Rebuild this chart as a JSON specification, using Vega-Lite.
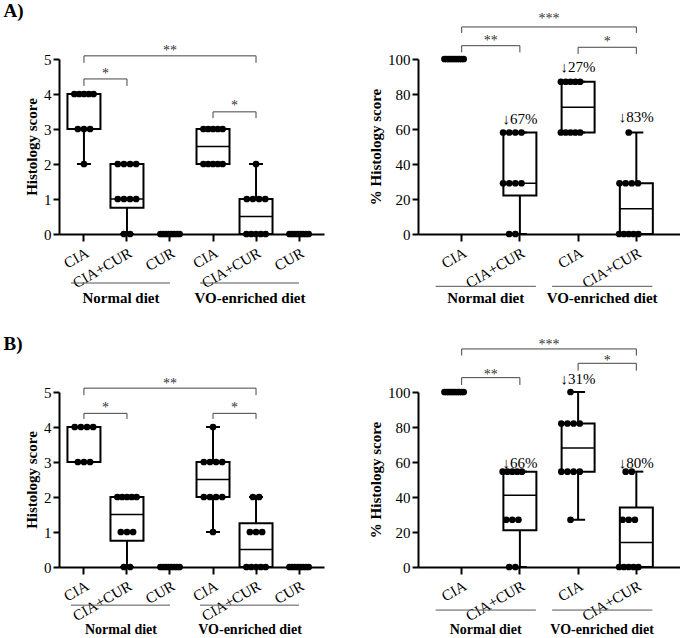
{
"$schema":"https://vega.github.io/schema/vega-lite/v6.json",
"background":"white",
"padding":{"left":3,"top":2,"right":0,"bottom":0},
"config":{"font":"Liberation Serif","view":{"stroke":null},
"axis":{"domainColor":"black","domainWidth":2,"tickColor":"black","tickWidth":2,"tickSize":6,"labelColor":"black","labelFontSize":15,"labelFont":"Liberation Serif","labelOverlap":false,"titleColor":"black","titleFontSize":15,"titleFontWeight":"bold","titleFont":"Liberation Serif","grid":false},
"axisX":{"labelAngle":-30,"labelFontSize":15,"labelPadding":4,"tickSize":7}},
"datasets":{
"pts":[
{"p":"AL","g":"Normal|CIA","v":4},{"p":"AL","g":"Normal|CIA","v":4},{"p":"AL","g":"Normal|CIA","v":4},{"p":"AL","g":"Normal|CIA","v":4},{"p":"AL","g":"Normal|CIA","v":4},
{"p":"AL","g":"Normal|CIA","v":3},{"p":"AL","g":"Normal|CIA","v":3},{"p":"AL","g":"Normal|CIA","v":3},{"p":"AL","g":"Normal|CIA","v":2},
{"p":"AL","g":"Normal|CIA+CUR","v":2},{"p":"AL","g":"Normal|CIA+CUR","v":2},{"p":"AL","g":"Normal|CIA+CUR","v":2},{"p":"AL","g":"Normal|CIA+CUR","v":2},
{"p":"AL","g":"Normal|CIA+CUR","v":1},{"p":"AL","g":"Normal|CIA+CUR","v":1},{"p":"AL","g":"Normal|CIA+CUR","v":1},{"p":"AL","g":"Normal|CIA+CUR","v":1},
{"p":"AL","g":"Normal|CIA+CUR","v":0},{"p":"AL","g":"Normal|CIA+CUR","v":0},
{"p":"AL","g":"Normal|CUR","v":0},{"p":"AL","g":"Normal|CUR","v":0},{"p":"AL","g":"Normal|CUR","v":0},{"p":"AL","g":"Normal|CUR","v":0},{"p":"AL","g":"Normal|CUR","v":0},{"p":"AL","g":"Normal|CUR","v":0},{"p":"AL","g":"Normal|CUR","v":0},{"p":"AL","g":"Normal|CUR","v":0},
{"p":"AL","g":"VO|CIA","v":3},{"p":"AL","g":"VO|CIA","v":3},{"p":"AL","g":"VO|CIA","v":3},{"p":"AL","g":"VO|CIA","v":3},{"p":"AL","g":"VO|CIA","v":3},
{"p":"AL","g":"VO|CIA","v":2},{"p":"AL","g":"VO|CIA","v":2},{"p":"AL","g":"VO|CIA","v":2},{"p":"AL","g":"VO|CIA","v":2},{"p":"AL","g":"VO|CIA","v":2},
{"p":"AL","g":"VO|CIA+CUR","v":2},
{"p":"AL","g":"VO|CIA+CUR","v":1},{"p":"AL","g":"VO|CIA+CUR","v":1},{"p":"AL","g":"VO|CIA+CUR","v":1},{"p":"AL","g":"VO|CIA+CUR","v":1},
{"p":"AL","g":"VO|CIA+CUR","v":0},{"p":"AL","g":"VO|CIA+CUR","v":0},{"p":"AL","g":"VO|CIA+CUR","v":0},{"p":"AL","g":"VO|CIA+CUR","v":0},{"p":"AL","g":"VO|CIA+CUR","v":0},
{"p":"AL","g":"VO|CUR","v":0},{"p":"AL","g":"VO|CUR","v":0},{"p":"AL","g":"VO|CUR","v":0},{"p":"AL","g":"VO|CUR","v":0},{"p":"AL","g":"VO|CUR","v":0},{"p":"AL","g":"VO|CUR","v":0},{"p":"AL","g":"VO|CUR","v":0},{"p":"AL","g":"VO|CUR","v":0},

{"p":"AR","g":"Normal|CIA","v":100},{"p":"AR","g":"Normal|CIA","v":100},{"p":"AR","g":"Normal|CIA","v":100},{"p":"AR","g":"Normal|CIA","v":100},{"p":"AR","g":"Normal|CIA","v":100},{"p":"AR","g":"Normal|CIA","v":100},{"p":"AR","g":"Normal|CIA","v":100},{"p":"AR","g":"Normal|CIA","v":100},{"p":"AR","g":"Normal|CIA","v":100},{"p":"AR","g":"Normal|CIA","v":100},
{"p":"AR","g":"Normal|CIA+CUR","v":58},{"p":"AR","g":"Normal|CIA+CUR","v":58},{"p":"AR","g":"Normal|CIA+CUR","v":58},{"p":"AR","g":"Normal|CIA+CUR","v":58},
{"p":"AR","g":"Normal|CIA+CUR","v":29},{"p":"AR","g":"Normal|CIA+CUR","v":29},{"p":"AR","g":"Normal|CIA+CUR","v":29},{"p":"AR","g":"Normal|CIA+CUR","v":29},
{"p":"AR","g":"Normal|CIA+CUR","v":0},{"p":"AR","g":"Normal|CIA+CUR","v":0},
{"p":"AR","g":"VO|CIA","v":87},{"p":"AR","g":"VO|CIA","v":87},{"p":"AR","g":"VO|CIA","v":87},{"p":"AR","g":"VO|CIA","v":87},{"p":"AR","g":"VO|CIA","v":87},
{"p":"AR","g":"VO|CIA","v":58},{"p":"AR","g":"VO|CIA","v":58},{"p":"AR","g":"VO|CIA","v":58},{"p":"AR","g":"VO|CIA","v":58},{"p":"AR","g":"VO|CIA","v":58},
{"p":"AR","g":"VO|CIA+CUR","v":58},
{"p":"AR","g":"VO|CIA+CUR","v":29},{"p":"AR","g":"VO|CIA+CUR","v":29},{"p":"AR","g":"VO|CIA+CUR","v":29},{"p":"AR","g":"VO|CIA+CUR","v":29},
{"p":"AR","g":"VO|CIA+CUR","v":0},{"p":"AR","g":"VO|CIA+CUR","v":0},{"p":"AR","g":"VO|CIA+CUR","v":0},{"p":"AR","g":"VO|CIA+CUR","v":0},{"p":"AR","g":"VO|CIA+CUR","v":0},

{"p":"BL","g":"Normal|CIA","v":4},{"p":"BL","g":"Normal|CIA","v":4},{"p":"BL","g":"Normal|CIA","v":4},{"p":"BL","g":"Normal|CIA","v":4},
{"p":"BL","g":"Normal|CIA","v":3},{"p":"BL","g":"Normal|CIA","v":3},{"p":"BL","g":"Normal|CIA","v":3},
{"p":"BL","g":"Normal|CIA+CUR","v":2},{"p":"BL","g":"Normal|CIA+CUR","v":2},{"p":"BL","g":"Normal|CIA+CUR","v":2},{"p":"BL","g":"Normal|CIA+CUR","v":2},{"p":"BL","g":"Normal|CIA+CUR","v":2},
{"p":"BL","g":"Normal|CIA+CUR","v":1},{"p":"BL","g":"Normal|CIA+CUR","v":1},{"p":"BL","g":"Normal|CIA+CUR","v":1},
{"p":"BL","g":"Normal|CIA+CUR","v":0},{"p":"BL","g":"Normal|CIA+CUR","v":0},
{"p":"BL","g":"Normal|CUR","v":0},{"p":"BL","g":"Normal|CUR","v":0},{"p":"BL","g":"Normal|CUR","v":0},{"p":"BL","g":"Normal|CUR","v":0},{"p":"BL","g":"Normal|CUR","v":0},{"p":"BL","g":"Normal|CUR","v":0},{"p":"BL","g":"Normal|CUR","v":0},{"p":"BL","g":"Normal|CUR","v":0},
{"p":"BL","g":"VO|CIA","v":4},
{"p":"BL","g":"VO|CIA","v":3},{"p":"BL","g":"VO|CIA","v":3},{"p":"BL","g":"VO|CIA","v":3},{"p":"BL","g":"VO|CIA","v":3},
{"p":"BL","g":"VO|CIA","v":2},{"p":"BL","g":"VO|CIA","v":2},{"p":"BL","g":"VO|CIA","v":2},{"p":"BL","g":"VO|CIA","v":2},
{"p":"BL","g":"VO|CIA","v":1},
{"p":"BL","g":"VO|CIA+CUR","v":2},{"p":"BL","g":"VO|CIA+CUR","v":2},
{"p":"BL","g":"VO|CIA+CUR","v":1},{"p":"BL","g":"VO|CIA+CUR","v":1},{"p":"BL","g":"VO|CIA+CUR","v":1},
{"p":"BL","g":"VO|CIA+CUR","v":0},{"p":"BL","g":"VO|CIA+CUR","v":0},{"p":"BL","g":"VO|CIA+CUR","v":0},{"p":"BL","g":"VO|CIA+CUR","v":0},{"p":"BL","g":"VO|CIA+CUR","v":0},
{"p":"BL","g":"VO|CUR","v":0},{"p":"BL","g":"VO|CUR","v":0},{"p":"BL","g":"VO|CUR","v":0},{"p":"BL","g":"VO|CUR","v":0},{"p":"BL","g":"VO|CUR","v":0},{"p":"BL","g":"VO|CUR","v":0},{"p":"BL","g":"VO|CUR","v":0},{"p":"BL","g":"VO|CUR","v":0},

{"p":"BR","g":"Normal|CIA","v":100},{"p":"BR","g":"Normal|CIA","v":100},{"p":"BR","g":"Normal|CIA","v":100},{"p":"BR","g":"Normal|CIA","v":100},{"p":"BR","g":"Normal|CIA","v":100},{"p":"BR","g":"Normal|CIA","v":100},{"p":"BR","g":"Normal|CIA","v":100},{"p":"BR","g":"Normal|CIA","v":100},{"p":"BR","g":"Normal|CIA","v":100},{"p":"BR","g":"Normal|CIA","v":100},
{"p":"BR","g":"Normal|CIA+CUR","v":54.5},{"p":"BR","g":"Normal|CIA+CUR","v":54.5},{"p":"BR","g":"Normal|CIA+CUR","v":54.5},{"p":"BR","g":"Normal|CIA+CUR","v":54.5},{"p":"BR","g":"Normal|CIA+CUR","v":54.5},
{"p":"BR","g":"Normal|CIA+CUR","v":27},{"p":"BR","g":"Normal|CIA+CUR","v":27},{"p":"BR","g":"Normal|CIA+CUR","v":27},
{"p":"BR","g":"Normal|CIA+CUR","v":0},{"p":"BR","g":"Normal|CIA+CUR","v":0},
{"p":"BR","g":"VO|CIA","v":100},
{"p":"BR","g":"VO|CIA","v":82},{"p":"BR","g":"VO|CIA","v":82},{"p":"BR","g":"VO|CIA","v":82},{"p":"BR","g":"VO|CIA","v":82},
{"p":"BR","g":"VO|CIA","v":54.5},{"p":"BR","g":"VO|CIA","v":54.5},{"p":"BR","g":"VO|CIA","v":54.5},{"p":"BR","g":"VO|CIA","v":54.5},
{"p":"BR","g":"VO|CIA","v":27},
{"p":"BR","g":"VO|CIA+CUR","v":54.5},{"p":"BR","g":"VO|CIA+CUR","v":54.5},
{"p":"BR","g":"VO|CIA+CUR","v":27},{"p":"BR","g":"VO|CIA+CUR","v":27},{"p":"BR","g":"VO|CIA+CUR","v":27},
{"p":"BR","g":"VO|CIA+CUR","v":0},{"p":"BR","g":"VO|CIA+CUR","v":0},{"p":"BR","g":"VO|CIA+CUR","v":0},{"p":"BR","g":"VO|CIA+CUR","v":0},{"p":"BR","g":"VO|CIA+CUR","v":0}
],
"box":[
{"p":"AL","g":"Normal|CIA","lo":2,"q1":3,"md":4,"q3":4,"hi":4},
{"p":"AL","g":"Normal|CIA+CUR","lo":0,"q1":0.75,"md":1,"q3":2,"hi":2},
{"p":"AL","g":"VO|CIA","lo":2,"q1":2,"md":2.5,"q3":3,"hi":3},
{"p":"AL","g":"VO|CIA+CUR","lo":0,"q1":0,"md":0.5,"q3":1,"hi":2},
{"p":"AR","g":"Normal|CIA+CUR","lo":0,"q1":22,"md":29,"q3":58,"hi":58},
{"p":"AR","g":"VO|CIA","lo":58,"q1":58,"md":72.5,"q3":87,"hi":87},
{"p":"AR","g":"VO|CIA+CUR","lo":0,"q1":0,"md":14.5,"q3":29,"hi":58},
{"p":"BL","g":"Normal|CIA","lo":3,"q1":3,"md":4,"q3":4,"hi":4},
{"p":"BL","g":"Normal|CIA+CUR","lo":0,"q1":0.75,"md":1.5,"q3":2,"hi":2},
{"p":"BL","g":"VO|CIA","lo":1,"q1":2,"md":2.5,"q3":3,"hi":4},
{"p":"BL","g":"VO|CIA+CUR","lo":0,"q1":0,"md":0.5,"q3":1.25,"hi":2},
{"p":"BR","g":"Normal|CIA+CUR","lo":0,"q1":21,"md":41,"q3":54.5,"hi":54.5},
{"p":"BR","g":"VO|CIA","lo":27,"q1":54.5,"md":68,"q3":82,"hi":100},
{"p":"BR","g":"VO|CIA+CUR","lo":0,"q1":0,"md":14,"q3":34,"hi":54.5}
],
"br":[
{"p":"AL","b":1,"g":"Normal|CIA","y":4.89,"s":0},{"p":"AL","b":1,"g":"Normal|CIA","y":5.09,"s":1},{"p":"AL","b":1,"g":"VO|CIA+CUR","y":5.09,"s":2},{"p":"AL","b":1,"g":"VO|CIA+CUR","y":4.89,"s":3},
{"p":"AL","b":2,"g":"Normal|CIA","y":4.23,"s":0},{"p":"AL","b":2,"g":"Normal|CIA","y":4.43,"s":1},{"p":"AL","b":2,"g":"Normal|CIA+CUR","y":4.43,"s":2},{"p":"AL","b":2,"g":"Normal|CIA+CUR","y":4.23,"s":3},
{"p":"AL","b":3,"g":"VO|CIA","y":3.31,"s":0},{"p":"AL","b":3,"g":"VO|CIA","y":3.49,"s":1},{"p":"AL","b":3,"g":"VO|CIA+CUR","y":3.49,"s":2},{"p":"AL","b":3,"g":"VO|CIA+CUR","y":3.31,"s":3},
{"p":"AR","b":1,"g":"Normal|CIA","y":114.9,"s":0},{"p":"AR","b":1,"g":"Normal|CIA","y":118.3,"s":1},{"p":"AR","b":1,"g":"VO|CIA+CUR","y":118.3,"s":2},{"p":"AR","b":1,"g":"VO|CIA+CUR","y":114.9,"s":3},
{"p":"AR","b":2,"g":"Normal|CIA","y":103.8,"s":0},{"p":"AR","b":2,"g":"Normal|CIA","y":107.6,"s":1},{"p":"AR","b":2,"g":"Normal|CIA+CUR","y":107.6,"s":2},{"p":"AR","b":2,"g":"Normal|CIA+CUR","y":103.8,"s":3},
{"p":"AR","b":3,"g":"VO|CIA","y":102.9,"s":0},{"p":"AR","b":3,"g":"VO|CIA","y":106.7,"s":1},{"p":"AR","b":3,"g":"VO|CIA+CUR","y":106.7,"s":2},{"p":"AR","b":3,"g":"VO|CIA+CUR","y":102.9,"s":3},
{"p":"BL","b":1,"g":"Normal|CIA","y":4.91,"s":0},{"p":"BL","b":1,"g":"Normal|CIA","y":5.11,"s":1},{"p":"BL","b":1,"g":"VO|CIA+CUR","y":5.11,"s":2},{"p":"BL","b":1,"g":"VO|CIA+CUR","y":4.91,"s":3},
{"p":"BL","b":2,"g":"Normal|CIA","y":4.23,"s":0},{"p":"BL","b":2,"g":"Normal|CIA","y":4.39,"s":1},{"p":"BL","b":2,"g":"Normal|CIA+CUR","y":4.39,"s":2},{"p":"BL","b":2,"g":"Normal|CIA+CUR","y":4.23,"s":3},
{"p":"BL","b":3,"g":"VO|CIA","y":4.23,"s":0},{"p":"BL","b":3,"g":"VO|CIA","y":4.39,"s":1},{"p":"BL","b":3,"g":"VO|CIA+CUR","y":4.39,"s":2},{"p":"BL","b":3,"g":"VO|CIA+CUR","y":4.23,"s":3},
{"p":"BR","b":1,"g":"Normal|CIA","y":120.8,"s":0},{"p":"BR","b":1,"g":"Normal|CIA","y":124.6,"s":1},{"p":"BR","b":1,"g":"VO|CIA+CUR","y":124.6,"s":2},{"p":"BR","b":1,"g":"VO|CIA+CUR","y":120.8,"s":3},
{"p":"BR","b":2,"g":"Normal|CIA","y":104,"s":0},{"p":"BR","b":2,"g":"Normal|CIA","y":108.2,"s":1},{"p":"BR","b":2,"g":"Normal|CIA+CUR","y":108.2,"s":2},{"p":"BR","b":2,"g":"Normal|CIA+CUR","y":104,"s":3},
{"p":"BR","b":3,"g":"VO|CIA","y":112.2,"s":0},{"p":"BR","b":3,"g":"VO|CIA","y":116.4,"s":1},{"p":"BR","b":3,"g":"VO|CIA+CUR","y":116.4,"s":2},{"p":"BR","b":3,"g":"VO|CIA+CUR","y":112.2,"s":3}
],
"st":[
{"p":"AL","g":"Normal|CUR","t":"**","y":5.22},{"p":"AL","g":"Normal|CIA","t":"*","y":4.57},{"p":"AL","g":"VO|CIA","t":"*","y":3.65},
{"p":"AR","g":"Normal|CIA+CUR","t":"***","y":122.9},{"p":"AR","g":"Normal|CIA","t":"**","y":110.3},{"p":"AR","g":"VO|CIA","t":"*","y":109.9},
{"p":"BL","g":"Normal|CUR","t":"**","y":5.23},{"p":"BL","g":"Normal|CIA","t":"*","y":4.54},{"p":"BL","g":"VO|CIA","t":"*","y":4.54},
{"p":"BR","g":"Normal|CIA+CUR","t":"***","y":127.1},{"p":"BR","g":"VO|CIA","t":"*","y":117.5},{"p":"BR","g":"Normal|CIA","t":"**","y":109.5}
],
"pc":[
{"p":"AR","g":"Normal|CIA+CUR","t":"↓67%","y":65.8},{"p":"AR","g":"VO|CIA","t":"↓27%","y":95.7},{"p":"AR","g":"VO|CIA+CUR","t":"↓83%","y":66.8},
{"p":"BR","g":"Normal|CIA+CUR","t":"↓66%","y":59.3},{"p":"BR","g":"VO|CIA","t":"↓31%","y":107.3},{"p":"BR","g":"VO|CIA+CUR","t":"↓80%","y":59.3}
],
"gl":[
{"p":"AL","t":"Normal diet","g1":"Normal|CIA","g2":"Normal|CUR","gm":"Normal|CIA+CUR","yl":-1.4,"yt":-1.83},
{"p":"AL","t":"VO-enriched diet","g1":"VO|CIA","g2":"VO|CUR","gm":"VO|CIA+CUR","yl":-1.4,"yt":-1.83},
{"p":"BL","t":"Normal diet","g1":"Normal|CIA","g2":"Normal|CUR","gm":"Normal|CIA+CUR","yl":-1.09,"yt":-1.8},
{"p":"BL","t":"VO-enriched diet","g1":"VO|CIA","g2":"VO|CUR","gm":"VO|CIA+CUR","yl":-1.09,"yt":-1.8},
{"p":"AR","t":"Normal diet","g1":"Normal|CIA","g2":"Normal|CIA+CUR","gm":"Normal|CIA","yl":-29.9,"yt":-36.6},
{"p":"AR","t":"VO-enriched diet","g1":"VO|CIA","g2":"VO|CIA+CUR","gm":"VO|CIA","yl":-29.9,"yt":-36.6},
{"p":"BR","t":"Normal diet","g1":"Normal|CIA","g2":"Normal|CIA+CUR","gm":"Normal|CIA","yl":-24.6,"yt":-36},
{"p":"BR","t":"VO-enriched diet","g1":"VO|CIA","g2":"VO|CIA+CUR","gm":"VO|CIA","yl":-24.6,"yt":-36}
]
},
"spacing":27,
"vconcat":[
{"spacing":44,"hconcat":[
{"width":265,"height":175,
"title":{"text":"A)","anchor":"start","frame":"bounds","dx":-21,"offset":8,"baseline":"alphabetic","fontSize":19,"fontWeight":"bold","font":"Liberation Serif","color":"black"},
"layer":[
{"data":{"name":"box"},"transform":[{"filter":"datum.p==='AL'"}],"mark":{"type":"rule","color":"black","strokeWidth":2},
"encoding":{"x":{"field":"g","type":"nominal","scale":{"domain":["Normal|CIA","Normal|CIA+CUR","Normal|CUR","VO|CIA","VO|CIA+CUR","VO|CUR"],"paddingInner":0,"paddingOuter":0.08},"axis":{"title":null,"labelExpr":"split(datum.label,'|')[1]"}},
"y":{"field":"lo","type":"quantitative","scale":{"domain":[0,5],"nice":false},"axis":{"title":"Histology score","values":[0,1,2,3,4,5],"labelOverlap":false}},"y2":{"field":"hi"}}},
{"data":{"name":"box"},"transform":[{"filter":"datum.p==='AL'"}],"mark":{"type":"bar","width":33,"fill":"white","stroke":"black","strokeWidth":2},
"encoding":{"x":{"field":"g","type":"nominal","axis":{"title":null,"labelExpr":"split(datum.label,'|')[1]"}},"y":{"field":"q1","type":"quantitative","axis":{"title":"Histology score","values":[0,1,2,3,4,5],"labelOverlap":false}},"y2":{"field":"q3"}}},
{"data":{"name":"box"},"transform":[{"filter":"datum.p==='AL'"}],"mark":{"type":"tick","size":33,"thickness":1.5,"color":"black","opacity":1},
"encoding":{"x":{"field":"g","type":"nominal","axis":{"title":null,"labelExpr":"split(datum.label,'|')[1]"}},"y":{"field":"md","type":"quantitative","axis":{"title":"Histology score","values":[0,1,2,3,4,5],"labelOverlap":false}}}},
{"data":{"name":"box"},"transform":[{"filter":"datum.p==='AL'"}],"mark":{"type":"tick","size":14,"thickness":2,"color":"black","opacity":1},
"encoding":{"x":{"field":"g","type":"nominal","axis":{"title":null,"labelExpr":"split(datum.label,'|')[1]"}},"y":{"field":"lo","type":"quantitative","axis":{"title":"Histology score","values":[0,1,2,3,4,5],"labelOverlap":false}}}},
{"data":{"name":"box"},"transform":[{"filter":"datum.p==='AL'"}],"mark":{"type":"tick","size":14,"thickness":2,"color":"black","opacity":1},
"encoding":{"x":{"field":"g","type":"nominal","axis":{"title":null,"labelExpr":"split(datum.label,'|')[1]"}},"y":{"field":"hi","type":"quantitative","axis":{"title":"Histology score","values":[0,1,2,3,4,5],"labelOverlap":false}}}},
{"data":{"name":"pts"},"transform":[{"filter":"datum.p==='AL'"},{"window":[{"op":"row_number","as":"rk"}],"groupby":["g","v"]},{"joinaggregate":[{"op":"count","as":"n"}],"groupby":["g","v"]},{"calculate":"(datum.rk-(datum.n+1)/2)*min(8.3,26/max(datum.n-1,1))","as":"off"}],
"mark":{"type":"circle","size":45,"color":"black","opacity":1},
"encoding":{"x":{"field":"g","type":"nominal","axis":{"title":null,"labelExpr":"split(datum.label,'|')[1]"}},"xOffset":{"field":"off","type":"quantitative","scale":{"domain":[-21.5,21.5],"nice":false,"zero":false}},"y":{"field":"v","type":"quantitative","axis":{"title":"Histology score","values":[0,1,2,3,4,5],"labelOverlap":false}}}},
{"data":{"name":"br"},"transform":[{"filter":"datum.p==='AL'"}],"mark":{"type":"line","color":"#444","strokeWidth":1},
"encoding":{"x":{"field":"g","type":"nominal","axis":{"title":null,"labelExpr":"split(datum.label,'|')[1]"}},"y":{"field":"y","type":"quantitative","axis":{"title":"Histology score","values":[0,1,2,3,4,5],"labelOverlap":false}},"detail":{"field":"b"},"order":{"field":"s","type":"quantitative"}}},
{"data":{"name":"st"},"transform":[{"filter":"datum.p==='AL' && datum.t==='**'"}],"mark":{"type":"text","fontSize":14,"color":"#333","baseline":"middle"},
"encoding":{"x":{"field":"g","type":"nominal","axis":{"title":null,"labelExpr":"split(datum.label,'|')[1]"}},"y":{"field":"y","type":"quantitative","axis":{"title":"Histology score","values":[0,1,2,3,4,5],"labelOverlap":false}},"text":{"field":"t"}}},
{"data":{"name":"st"},"transform":[{"filter":"datum.p==='AL' && datum.t==='*'"}],"mark":{"type":"text","fontSize":14,"color":"#333","baseline":"middle","dx":21.5},
"encoding":{"x":{"field":"g","type":"nominal","axis":{"title":null,"labelExpr":"split(datum.label,'|')[1]"}},"y":{"field":"y","type":"quantitative","axis":{"title":"Histology score","values":[0,1,2,3,4,5],"labelOverlap":false}},"text":{"field":"t"}}},
{"data":{"name":"gl"},"transform":[{"filter":"datum.p==='AL'"}],"mark":{"type":"rule","color":"#555","strokeWidth":1,"xOffset":-13,"x2Offset":0},
"encoding":{"x":{"field":"g1","type":"nominal","bandPosition":0.5,"axis":{"title":null,"labelExpr":"split(datum.label,'|')[1]"}},"x2":{"field":"g2"},"y":{"field":"yl","type":"quantitative","axis":{"title":"Histology score","values":[0,1,2,3,4,5],"labelOverlap":false}}}},
{"data":{"name":"gl"},"transform":[{"filter":"datum.p==='AL'"}],"mark":{"type":"text","fontSize":15,"fontWeight":"bold","color":"black","baseline":"middle","dx":-6},
"encoding":{"x":{"field":"gm","type":"nominal","axis":{"title":null,"labelExpr":"split(datum.label,'|')[1]"}},"y":{"field":"yt","type":"quantitative","axis":{"title":"Histology score","values":[0,1,2,3,4,5],"labelOverlap":false}},"text":{"field":"t"}}}
]},
{"width":262,"height":175,
"layer":[
{"data":{"name":"box"},"transform":[{"filter":"datum.p==='AR'"}],"mark":{"type":"rule","color":"black","strokeWidth":2},
"encoding":{"x":{"field":"g","type":"nominal","scale":{"domain":["Normal|CIA","Normal|CIA+CUR","VO|CIA","VO|CIA+CUR"],"paddingInner":0,"paddingOuter":0.25},"axis":{"title":null,"labelExpr":"split(datum.label,'|')[1]"}},
"y":{"field":"lo","type":"quantitative","scale":{"domain":[0,100],"nice":false},"axis":{"title":"% Histology score","values":[0,20,40,60,80,100],"labelOverlap":false}},"y2":{"field":"hi"}}},
{"data":{"name":"box"},"transform":[{"filter":"datum.p==='AR'"}],"mark":{"type":"bar","width":33,"fill":"white","stroke":"black","strokeWidth":2},
"encoding":{"x":{"field":"g","type":"nominal","axis":{"title":null,"labelExpr":"split(datum.label,'|')[1]"}},"y":{"field":"q1","type":"quantitative","axis":{"title":"% Histology score","values":[0,20,40,60,80,100],"labelOverlap":false}},"y2":{"field":"q3"}}},
{"data":{"name":"box"},"transform":[{"filter":"datum.p==='AR'"}],"mark":{"type":"tick","size":33,"thickness":1.5,"color":"black","opacity":1},
"encoding":{"x":{"field":"g","type":"nominal","axis":{"title":null,"labelExpr":"split(datum.label,'|')[1]"}},"y":{"field":"md","type":"quantitative","axis":{"title":"% Histology score","values":[0,20,40,60,80,100],"labelOverlap":false}}}},
{"data":{"name":"box"},"transform":[{"filter":"datum.p==='AR'"}],"mark":{"type":"tick","size":14,"thickness":2,"color":"black","opacity":1},
"encoding":{"x":{"field":"g","type":"nominal","axis":{"title":null,"labelExpr":"split(datum.label,'|')[1]"}},"y":{"field":"lo","type":"quantitative","axis":{"title":"% Histology score","values":[0,20,40,60,80,100],"labelOverlap":false}}}},
{"data":{"name":"box"},"transform":[{"filter":"datum.p==='AR'"}],"mark":{"type":"tick","size":14,"thickness":2,"color":"black","opacity":1},
"encoding":{"x":{"field":"g","type":"nominal","axis":{"title":null,"labelExpr":"split(datum.label,'|')[1]"}},"y":{"field":"hi","type":"quantitative","axis":{"title":"% Histology score","values":[0,20,40,60,80,100],"labelOverlap":false}}}},
{"data":{"name":"pts"},"transform":[{"filter":"datum.p==='AR'"},{"window":[{"op":"row_number","as":"rk"}],"groupby":["g","v"]},{"joinaggregate":[{"op":"count","as":"n"}],"groupby":["g","v"]},{"calculate":"(datum.rk-(datum.n+1)/2)*min(8.3,26/max(datum.n-1,1))","as":"off"}],
"mark":{"type":"circle","size":45,"color":"black","opacity":1},
"encoding":{"x":{"field":"g","type":"nominal","axis":{"title":null,"labelExpr":"split(datum.label,'|')[1]"}},"xOffset":{"field":"off","type":"quantitative","scale":{"domain":[-29.1,29.1],"nice":false,"zero":false}},"y":{"field":"v","type":"quantitative","axis":{"title":"% Histology score","values":[0,20,40,60,80,100],"labelOverlap":false}}}},
{"data":{"name":"br"},"transform":[{"filter":"datum.p==='AR'"}],"mark":{"type":"line","color":"#444","strokeWidth":1},
"encoding":{"x":{"field":"g","type":"nominal","axis":{"title":null,"labelExpr":"split(datum.label,'|')[1]"}},"y":{"field":"y","type":"quantitative","axis":{"title":"% Histology score","values":[0,20,40,60,80,100],"labelOverlap":false}},"detail":{"field":"b"},"order":{"field":"s","type":"quantitative"}}},
{"data":{"name":"st"},"transform":[{"filter":"datum.p==='AR'"}],"mark":{"type":"text","fontSize":14,"color":"#333","baseline":"middle","dx":29.1},
"encoding":{"x":{"field":"g","type":"nominal","axis":{"title":null,"labelExpr":"split(datum.label,'|')[1]"}},"y":{"field":"y","type":"quantitative","axis":{"title":"% Histology score","values":[0,20,40,60,80,100],"labelOverlap":false}},"text":{"field":"t"}}},
{"data":{"name":"pc"},"transform":[{"filter":"datum.p==='AR'"}],"mark":{"type":"text","fontSize":15,"color":"black","baseline":"middle"},
"encoding":{"x":{"field":"g","type":"nominal","axis":{"title":null,"labelExpr":"split(datum.label,'|')[1]"}},"y":{"field":"y","type":"quantitative","axis":{"title":"% Histology score","values":[0,20,40,60,80,100],"labelOverlap":false}},"text":{"field":"t"}}},
{"data":{"name":"gl"},"transform":[{"filter":"datum.p==='AR'"}],"mark":{"type":"rule","color":"#555","strokeWidth":1,"xOffset":-26,"x2Offset":16},
"encoding":{"x":{"field":"g1","type":"nominal","bandPosition":0.5,"axis":{"title":null,"labelExpr":"split(datum.label,'|')[1]"}},"x2":{"field":"g2"},"y":{"field":"yl","type":"quantitative","axis":{"title":"% Histology score","values":[0,20,40,60,80,100],"labelOverlap":false}}}},
{"data":{"name":"gl"},"transform":[{"filter":"datum.p==='AR'"}],"mark":{"type":"text","fontSize":15,"fontWeight":"bold","color":"black","baseline":"middle","dx":24},
"encoding":{"x":{"field":"gm","type":"nominal","axis":{"title":null,"labelExpr":"split(datum.label,'|')[1]"}},"y":{"field":"yt","type":"quantitative","axis":{"title":"% Histology score","values":[0,20,40,60,80,100],"labelOverlap":false}},"text":{"field":"t"}}}
]}
]},
{"spacing":44,"hconcat":[
{"width":265,"height":175,
"title":{"text":"B)","anchor":"start","frame":"bounds","dx":-21,"offset":8,"baseline":"alphabetic","fontSize":19,"fontWeight":"bold","font":"Liberation Serif","color":"black"},
"layer":[
{"data":{"name":"box"},"transform":[{"filter":"datum.p==='BL'"}],"mark":{"type":"rule","color":"black","strokeWidth":2},
"encoding":{"x":{"field":"g","type":"nominal","scale":{"domain":["Normal|CIA","Normal|CIA+CUR","Normal|CUR","VO|CIA","VO|CIA+CUR","VO|CUR"],"paddingInner":0,"paddingOuter":0.08},"axis":{"title":null,"labelExpr":"split(datum.label,'|')[1]"}},
"y":{"field":"lo","type":"quantitative","scale":{"domain":[0,5],"nice":false},"axis":{"title":"Histology score","values":[0,1,2,3,4,5],"labelOverlap":false}},"y2":{"field":"hi"}}},
{"data":{"name":"box"},"transform":[{"filter":"datum.p==='BL'"}],"mark":{"type":"bar","width":33,"fill":"white","stroke":"black","strokeWidth":2},
"encoding":{"x":{"field":"g","type":"nominal","axis":{"title":null,"labelExpr":"split(datum.label,'|')[1]"}},"y":{"field":"q1","type":"quantitative","axis":{"title":"Histology score","values":[0,1,2,3,4,5],"labelOverlap":false}},"y2":{"field":"q3"}}},
{"data":{"name":"box"},"transform":[{"filter":"datum.p==='BL'"}],"mark":{"type":"tick","size":33,"thickness":1.5,"color":"black","opacity":1},
"encoding":{"x":{"field":"g","type":"nominal","axis":{"title":null,"labelExpr":"split(datum.label,'|')[1]"}},"y":{"field":"md","type":"quantitative","axis":{"title":"Histology score","values":[0,1,2,3,4,5],"labelOverlap":false}}}},
{"data":{"name":"box"},"transform":[{"filter":"datum.p==='BL'"}],"mark":{"type":"tick","size":14,"thickness":2,"color":"black","opacity":1},
"encoding":{"x":{"field":"g","type":"nominal","axis":{"title":null,"labelExpr":"split(datum.label,'|')[1]"}},"y":{"field":"lo","type":"quantitative","axis":{"title":"Histology score","values":[0,1,2,3,4,5],"labelOverlap":false}}}},
{"data":{"name":"box"},"transform":[{"filter":"datum.p==='BL'"}],"mark":{"type":"tick","size":14,"thickness":2,"color":"black","opacity":1},
"encoding":{"x":{"field":"g","type":"nominal","axis":{"title":null,"labelExpr":"split(datum.label,'|')[1]"}},"y":{"field":"hi","type":"quantitative","axis":{"title":"Histology score","values":[0,1,2,3,4,5],"labelOverlap":false}}}},
{"data":{"name":"pts"},"transform":[{"filter":"datum.p==='BL'"},{"window":[{"op":"row_number","as":"rk"}],"groupby":["g","v"]},{"joinaggregate":[{"op":"count","as":"n"}],"groupby":["g","v"]},{"calculate":"(datum.rk-(datum.n+1)/2)*min(8.3,26/max(datum.n-1,1))","as":"off"}],
"mark":{"type":"circle","size":45,"color":"black","opacity":1},
"encoding":{"x":{"field":"g","type":"nominal","axis":{"title":null,"labelExpr":"split(datum.label,'|')[1]"}},"xOffset":{"field":"off","type":"quantitative","scale":{"domain":[-21.5,21.5],"nice":false,"zero":false}},"y":{"field":"v","type":"quantitative","axis":{"title":"Histology score","values":[0,1,2,3,4,5],"labelOverlap":false}}}},
{"data":{"name":"br"},"transform":[{"filter":"datum.p==='BL'"}],"mark":{"type":"line","color":"#444","strokeWidth":1},
"encoding":{"x":{"field":"g","type":"nominal","axis":{"title":null,"labelExpr":"split(datum.label,'|')[1]"}},"y":{"field":"y","type":"quantitative","axis":{"title":"Histology score","values":[0,1,2,3,4,5],"labelOverlap":false}},"detail":{"field":"b"},"order":{"field":"s","type":"quantitative"}}},
{"data":{"name":"st"},"transform":[{"filter":"datum.p==='BL' && datum.t==='**'"}],"mark":{"type":"text","fontSize":14,"color":"#333","baseline":"middle"},
"encoding":{"x":{"field":"g","type":"nominal","axis":{"title":null,"labelExpr":"split(datum.label,'|')[1]"}},"y":{"field":"y","type":"quantitative","axis":{"title":"Histology score","values":[0,1,2,3,4,5],"labelOverlap":false}},"text":{"field":"t"}}},
{"data":{"name":"st"},"transform":[{"filter":"datum.p==='BL' && datum.t==='*'"}],"mark":{"type":"text","fontSize":14,"color":"#333","baseline":"middle","dx":21.5},
"encoding":{"x":{"field":"g","type":"nominal","axis":{"title":null,"labelExpr":"split(datum.label,'|')[1]"}},"y":{"field":"y","type":"quantitative","axis":{"title":"Histology score","values":[0,1,2,3,4,5],"labelOverlap":false}},"text":{"field":"t"}}},
{"data":{"name":"gl"},"transform":[{"filter":"datum.p==='BL'"}],"mark":{"type":"rule","color":"#555","strokeWidth":1,"xOffset":-13,"x2Offset":0},
"encoding":{"x":{"field":"g1","type":"nominal","bandPosition":0.5,"axis":{"title":null,"labelExpr":"split(datum.label,'|')[1]"}},"x2":{"field":"g2"},"y":{"field":"yl","type":"quantitative","axis":{"title":"Histology score","values":[0,1,2,3,4,5],"labelOverlap":false}}}},
{"data":{"name":"gl"},"transform":[{"filter":"datum.p==='BL'"}],"mark":{"type":"text","fontSize":14,"fontWeight":"bold","color":"black","baseline":"middle","dx":-6},
"encoding":{"x":{"field":"gm","type":"nominal","axis":{"title":null,"labelExpr":"split(datum.label,'|')[1]"}},"y":{"field":"yt","type":"quantitative","axis":{"title":"Histology score","values":[0,1,2,3,4,5],"labelOverlap":false}},"text":{"field":"t"}}}
]},
{"width":262,"height":175,
"layer":[
{"data":{"name":"box"},"transform":[{"filter":"datum.p==='BR'"}],"mark":{"type":"rule","color":"black","strokeWidth":2},
"encoding":{"x":{"field":"g","type":"nominal","scale":{"domain":["Normal|CIA","Normal|CIA+CUR","VO|CIA","VO|CIA+CUR"],"paddingInner":0,"paddingOuter":0.25},"axis":{"title":null,"labelExpr":"split(datum.label,'|')[1]"}},
"y":{"field":"lo","type":"quantitative","scale":{"domain":[0,100],"nice":false},"axis":{"title":"% Histology score","values":[0,20,40,60,80,100],"labelOverlap":false}},"y2":{"field":"hi"}}},
{"data":{"name":"box"},"transform":[{"filter":"datum.p==='BR'"}],"mark":{"type":"bar","width":33,"fill":"white","stroke":"black","strokeWidth":2},
"encoding":{"x":{"field":"g","type":"nominal","axis":{"title":null,"labelExpr":"split(datum.label,'|')[1]"}},"y":{"field":"q1","type":"quantitative","axis":{"title":"% Histology score","values":[0,20,40,60,80,100],"labelOverlap":false}},"y2":{"field":"q3"}}},
{"data":{"name":"box"},"transform":[{"filter":"datum.p==='BR'"}],"mark":{"type":"tick","size":33,"thickness":1.5,"color":"black","opacity":1},
"encoding":{"x":{"field":"g","type":"nominal","axis":{"title":null,"labelExpr":"split(datum.label,'|')[1]"}},"y":{"field":"md","type":"quantitative","axis":{"title":"% Histology score","values":[0,20,40,60,80,100],"labelOverlap":false}}}},
{"data":{"name":"box"},"transform":[{"filter":"datum.p==='BR'"}],"mark":{"type":"tick","size":14,"thickness":2,"color":"black","opacity":1},
"encoding":{"x":{"field":"g","type":"nominal","axis":{"title":null,"labelExpr":"split(datum.label,'|')[1]"}},"y":{"field":"lo","type":"quantitative","axis":{"title":"% Histology score","values":[0,20,40,60,80,100],"labelOverlap":false}}}},
{"data":{"name":"box"},"transform":[{"filter":"datum.p==='BR'"}],"mark":{"type":"tick","size":14,"thickness":2,"color":"black","opacity":1},
"encoding":{"x":{"field":"g","type":"nominal","axis":{"title":null,"labelExpr":"split(datum.label,'|')[1]"}},"y":{"field":"hi","type":"quantitative","axis":{"title":"% Histology score","values":[0,20,40,60,80,100],"labelOverlap":false}}}},
{"data":{"name":"pts"},"transform":[{"filter":"datum.p==='BR'"},{"window":[{"op":"row_number","as":"rk"}],"groupby":["g","v"]},{"joinaggregate":[{"op":"count","as":"n"}],"groupby":["g","v"]},{"calculate":"(datum.rk-(datum.n+1)/2)*min(8.3,26/max(datum.n-1,1))","as":"off"}],
"mark":{"type":"circle","size":45,"color":"black","opacity":1},
"encoding":{"x":{"field":"g","type":"nominal","axis":{"title":null,"labelExpr":"split(datum.label,'|')[1]"}},"xOffset":{"field":"off","type":"quantitative","scale":{"domain":[-29.1,29.1],"nice":false,"zero":false}},"y":{"field":"v","type":"quantitative","axis":{"title":"% Histology score","values":[0,20,40,60,80,100],"labelOverlap":false}}}},
{"data":{"name":"br"},"transform":[{"filter":"datum.p==='BR'"}],"mark":{"type":"line","color":"#444","strokeWidth":1},
"encoding":{"x":{"field":"g","type":"nominal","axis":{"title":null,"labelExpr":"split(datum.label,'|')[1]"}},"y":{"field":"y","type":"quantitative","axis":{"title":"% Histology score","values":[0,20,40,60,80,100],"labelOverlap":false}},"detail":{"field":"b"},"order":{"field":"s","type":"quantitative"}}},
{"data":{"name":"st"},"transform":[{"filter":"datum.p==='BR'"}],"mark":{"type":"text","fontSize":14,"color":"#333","baseline":"middle","dx":29.1},
"encoding":{"x":{"field":"g","type":"nominal","axis":{"title":null,"labelExpr":"split(datum.label,'|')[1]"}},"y":{"field":"y","type":"quantitative","axis":{"title":"% Histology score","values":[0,20,40,60,80,100],"labelOverlap":false}},"text":{"field":"t"}}},
{"data":{"name":"pc"},"transform":[{"filter":"datum.p==='BR'"}],"mark":{"type":"text","fontSize":15,"color":"black","baseline":"middle"},
"encoding":{"x":{"field":"g","type":"nominal","axis":{"title":null,"labelExpr":"split(datum.label,'|')[1]"}},"y":{"field":"y","type":"quantitative","axis":{"title":"% Histology score","values":[0,20,40,60,80,100],"labelOverlap":false}},"text":{"field":"t"}}},
{"data":{"name":"gl"},"transform":[{"filter":"datum.p==='BR'"}],"mark":{"type":"rule","color":"#555","strokeWidth":1,"xOffset":-26,"x2Offset":16},
"encoding":{"x":{"field":"g1","type":"nominal","bandPosition":0.5,"axis":{"title":null,"labelExpr":"split(datum.label,'|')[1]"}},"x2":{"field":"g2"},"y":{"field":"yl","type":"quantitative","axis":{"title":"% Histology score","values":[0,20,40,60,80,100],"labelOverlap":false}}}},
{"data":{"name":"gl"},"transform":[{"filter":"datum.p==='BR'"}],"mark":{"type":"text","fontSize":14,"fontWeight":"bold","color":"black","baseline":"middle","dx":24},
"encoding":{"x":{"field":"gm","type":"nominal","axis":{"title":null,"labelExpr":"split(datum.label,'|')[1]"}},"y":{"field":"yt","type":"quantitative","axis":{"title":"% Histology score","values":[0,20,40,60,80,100],"labelOverlap":false}},"text":{"field":"t"}}}
]}
]}
]
}
